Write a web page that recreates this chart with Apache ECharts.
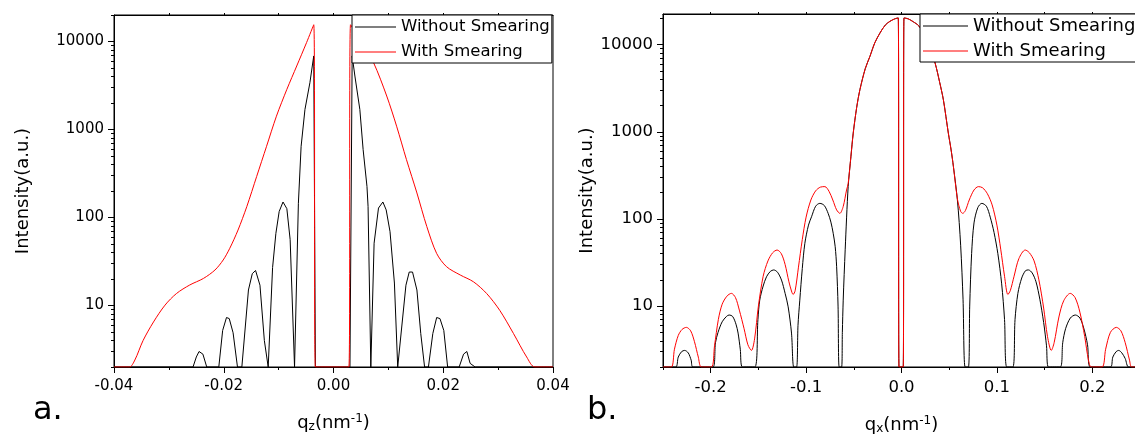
<!DOCTYPE html>
<html><head><meta charset="utf-8">
<script src="https://cdn.jsdelivr.net/npm/echarts@6/dist/echarts.min.js"></script>
<style>html,body{margin:0;padding:0;background:#fff}#c{width:1135px;height:441px}</style>
</head><body><div id="c"></div>
<script>
// ---------- Panel a (q_z) ----------
const aBlackX = [-0.04,-0.0256,-0.0250,-0.0245,-0.0238,-0.0231,-0.0209,-0.0202,-0.0195,-0.0190,-0.0183,-0.0175,-0.0167,-0.0155,-0.0148,-0.0142,-0.0134,-0.0126,-0.0119,-0.0117,-0.0111,-0.0105,-0.0099,-0.0092,-0.0085,-0.0079,-0.0071,-0.0070,-0.0064,-0.0059,-0.0052,-0.0043,-0.0036,-0.0033,0.0030,0.0034,0.0039,0.0048,0.0054,0.0061,0.0063,0.0068,0.0070,0.0074,0.0082,0.0090,0.0096,0.0103,0.0111,0.0117,0.0118,0.0132,0.0138,0.0144,0.0152,0.0159,0.0166,0.0173,0.0181,0.0188,0.0194,0.0201,0.0208,0.0229,0.0237,0.0243,0.0249,0.0258,0.04];
const aBlackY = [2,2,2.6,3.0,2.8,2,2,5.2,7.3,7.1,4.9,2,2,15,23,25,17,4,2,2,27,66,117,150,126,56,2,2,145,644,1690,3400,6850,2,2,6850,4050,1690,590,225,133,2,2,51,128,150,122,69,18,2,2,17,24,24,15,4.8,2,2,4.8,7.3,7.1,5.2,2,2,2.8,3.0,2.2,2,2];
const aRedX = [-0.04,-0.0372,-0.0362,-0.0347,-0.0328,-0.0307,-0.0286,-0.0262,-0.0237,-0.0216,-0.0201,-0.0189,-0.0174,-0.0158,-0.0140,-0.0122,-0.0104,-0.0085,-0.0067,-0.0049,-0.0036,-0.0033,0.0028,0.0031,0.0052,0.0073,0.0097,0.0115,0.0133,0.0152,0.0170,0.0188,0.0206,0.0231,0.0255,0.0279,0.0303,0.0328,0.0352,0.0367,0.04];
const aRedY = [2,2,2.4,4.0,6.5,10.1,13.7,17.1,20.3,25.3,32.9,44.7,72,133,293,644,1416,2857,5270,9750,15500,2,2,15500,9700,5750,2400,1090,454,190,79,39,27.6,22.2,18.6,13.7,8.8,4.8,2.6,2,2];

// ---------- Panel b (q_x) ----------
const bBlackX = [-0.25,-0.2367,-0.2340,-0.2305,-0.2273,-0.2235,-0.2205,-0.2186,
 -0.1976,-0.1950,-0.1923,-0.1880,-0.1835,-0.1808,-0.1770,-0.1735,-0.1713,-0.1690,-0.1667,
 -0.1538,-0.1505,-0.1486,-0.1450,-0.1415,-0.1375,-0.1339,-0.1300,-0.1258,-0.1220,-0.1188,-0.1153,-0.1129,
 -0.1100,-0.1085,-0.1066,-0.1040,-0.1013,-0.0975,-0.0943,-0.0900,-0.0856,-0.0810,-0.0769,-0.0740,-0.0716,-0.0695,-0.0680,-0.0665,-0.0653,
 -0.0628,-0.0620,-0.0611,-0.0590,-0.0559,-0.0530,-0.0506,-0.0470,-0.0436,-0.0380,-0.0331,-0.0280,-0.0226,-0.0170,-0.0121,-0.0070,-0.0034,-0.0026,
 0.0018,0.0026,0.0070,0.0124,0.0180,0.0226,0.0290,0.0352,0.0400,0.0439,0.0491,0.0520,0.0544,0.0586,0.0620,0.0645,0.0667,
 0.0701,0.0715,0.0735,0.0760,0.0800,0.0842,0.0890,0.0930,0.0970,0.1010,0.1050,0.1080,0.1104,
 0.1167,0.1190,0.1220,0.1260,0.1300,0.1331,0.1370,0.1410,0.1450,0.1490,0.1520,0.1541,
 0.1664,0.1690,0.1720,0.1770,0.1822,0.1870,0.1910,0.1950,0.1979,
 0.2189,0.2215,0.2250,0.2276,0.2310,0.2345,0.2381,0.25];
const bBlackY = [2,2,2.6,3.0,3.1,2.9,2.4,2,
 2,3.8,5.0,6.6,7.6,7.9,7.6,6.2,4.9,3.2,2,
 2,7,11.7,17,21.7,25,26,24.5,19.9,14,9.8,4.9,2,
 2,6,11.7,27,52.6,85,106,140,151,143,116,92,68.5,48,28.3,10,2,
 2,5,11.7,45,235,520,966,1900,3040,5300,7340,10500,13600,16800,18540,19800,20280,2,
 2,20280,19800,18300,16500,13600,9600,6160,3700,2330,966,620,400,165,50,12,2,
 2,10,40,90,135,151,140,105,70,40,18,7,2,
 2,7,14,21,25.5,26,24,19,12,6.5,3.5,2,
 2,3.8,5.5,7.3,7.9,7.3,5.6,3.6,2,
 2,2.6,3.0,3.1,2.9,2.5,2,2];
const bRedX = [-0.25,-0.2413,-0.2380,-0.2340,-0.2300,-0.2255,-0.2210,-0.2170,-0.2130,-0.2098,
 -0.1993,-0.1960,-0.1920,-0.1880,-0.1830,-0.1783,-0.1740,-0.1700,-0.1650,-0.1610,-0.1573,-0.1540,-0.1500,-0.1450,-0.1400,-0.1350,-0.1304,-0.1260,-0.1220,-0.1180,-0.1150,-0.1136,-0.1115,-0.1080,-0.1040,-0.1000,-0.0950,-0.0900,-0.0850,-0.0803,-0.0760,-0.0720,-0.0680,-0.0646,-0.0611,-0.0576,-0.0559,-0.0530,-0.0506,-0.0470,-0.0436,-0.0380,-0.0331,-0.0280,-0.0226,-0.0170,-0.0121,-0.0070,-0.0034,-0.0026,
 0.0018,0.0026,0.0070,0.0124,0.0180,0.0226,0.0290,0.0352,0.0400,0.0439,0.0491,0.0520,0.0544,0.0586,0.0620,0.0642,0.0670,0.0710,0.0760,0.0806,0.0850,0.0900,0.0950,0.1000,0.1040,0.1080,0.1115,0.1140,0.1180,0.1230,0.1297,0.1340,0.1390,0.1440,0.1490,0.1530,0.1570,0.1600,0.1650,0.1700,0.1769,0.1820,0.1870,0.1920,0.1960,0.1990,
 0.2102,0.2140,0.2190,0.2252,0.2300,0.2345,0.2390,0.2413,0.25];
const bRedY = [2,2,3.2,4.6,5.4,5.7,5.2,3.9,2.6,2,
 2,3.5,7,10.5,13,14,12.5,9,5.5,3.6,3.1,4.2,10,22,33,41,44,40,30,19,14.5,13.6,15,28,58,105,165,210,232,235,208,165,127,116,139,215,255,530,966,1900,3040,5300,7340,10500,13600,16800,18540,19800,20280,2,
 2,20280,19800,18300,16500,13600,9600,6160,3700,2330,966,620,400,170,122,116,125,165,215,235,228,195,145,85,45,22,13.6,15,22,35,44,41,33,20,9.5,4.5,3.1,3.8,7.5,11.5,14,12.5,8.5,4.5,2.4,2,
 2,3.2,5.0,5.7,5.2,3.8,2.4,2,2];

// ---------- Ticks ----------
const aXTicks = [-0.04,-0.02,0,0.02,0.04];
const aXMinor = [-0.03,-0.01,0.01,0.03];
const aXTop = [-0.03,-0.02,-0.01,0,0.01,0.02,0.03];
const bXTicks = [-0.2,-0.1,0,0.1,0.2];
const bXMinor = [-0.25,-0.15,-0.05,0.05,0.15,0.25];
const bXTop = [-0.2,-0.15,-0.1,-0.05,0,0.05,0.1,0.15,0.2];
const yTicks = [10,100,1000,10000];
const yMinor = [2,3,4,5,6,7,8,9,20,30,40,50,60,70,80,90,200,300,400,500,600,700,800,900,2000,3000,4000,5000,6000,7000,8000,9000,20000];
const seriesNames = ['Without Smearing','With Smearing'];

const FONT = 'DejaVu Sans';
const pairs = (xs, ys) => xs.map((x, i) => [x, ys[i]]);

function xAxesFor(g, min, max, ticks, minor, top, digits, labelSize, sub) {
  return [
    {type:'value', gridIndex:g, min, max, position:'bottom',
     splitLine:{show:false},
     axisLine:{show:true, onZero:false, lineStyle:{color:'#000', width:1}},
     axisTick:{show:true, customValues:ticks, length:6, lineStyle:{color:'#000'}},
     axisLabel:{customValues:ticks, formatter:v => v.toFixed(digits), margin:12,
                fontSize:labelSize, color:'#000', fontFamily:FONT},
     name:'{t|q}{s|' + sub + '}{t|(nm}{p|-1}{t|)}', nameLocation:'middle', nameGap:40,
     nameTextStyle:{rich:{
       t:{fontSize:18, fontFamily:FONT, color:'#000', lineHeight:20},
       s:{fontSize:12, fontFamily:FONT, color:'#000', lineHeight:12, verticalAlign:'bottom', padding:[22,0,0,0]},
       p:{fontSize:12, fontFamily:FONT, color:'#000', lineHeight:12, verticalAlign:'top', padding:[0,0,22,0]}
     }}},
    {type:'value', gridIndex:g, min, max, position:'bottom', splitLine:{show:false},
     axisLine:{show:false, onZero:false},
     axisTick:{show:true, customValues:minor, length:3, lineStyle:{color:'#000'}},
     axisLabel:{show:false}},
    {type:'value', gridIndex:g, min, max, position:'top', splitLine:{show:false},
     axisLine:{show:true, onZero:false, lineStyle:{color:'#000', width:1}},
     axisTick:{show:true, customValues:top, length:2, lineStyle:{color:'#000'}},
     axisLabel:{show:false}}
  ];
}
function yAxesFor(g, max, labelSize, nameGap) {
  return [
    {type:'log', logBase:10, gridIndex:g, min:2, max, position:'left',
     splitLine:{show:false},
     axisLine:{show:true, onZero:false, lineStyle:{color:'#000', width:1}},
     axisTick:{show:true, customValues:yTicks, length:6, lineStyle:{color:'#000'}},
     axisLabel:{customValues:yTicks, formatter:v => String(Math.round(v)), margin:10,
                fontSize:labelSize, color:'#000', fontFamily:FONT},
     name:'Intensity(a.u.)', nameLocation:'middle', nameGap,
     nameTextStyle:{fontSize:18, fontFamily:FONT, color:'#000'}},
    {type:'log', logBase:10, gridIndex:g, min:2, max, position:'left',
     splitLine:{show:false}, axisLine:{show:false, onZero:false},
     axisTick:{show:true, customValues:yMinor, length:3, lineStyle:{color:'#000'}},
     axisLabel:{show:false}}
  ];
}
function lineSeries(name, color, xi, yi, data, smooth, z) {
  return {type:'line', name, xAxisIndex:xi, yAxisIndex:yi, data, smooth,
          symbol:'none', showSymbol:false, clip:true, z,
          lineStyle:{color, width:1}, itemStyle:{color}, animation:false};
}
function legendFor(left, top, itemWidth, fontSize) {
  return {data:seriesNames.map(n => ({name:n, icon:'rect'})), orient:'vertical', left, top,
          itemWidth, itemHeight:1, itemGap:5,
          padding:[2,2,1,3], borderColor:'#000', borderWidth:1, borderRadius:0, backgroundColor:'#fff',
          selectedMode:false, z:10,
          textStyle:{fontSize, fontFamily:FONT, color:'#000', lineHeight:20}};
}

const chart = echarts.init(document.getElementById('c'), null, {renderer:'canvas'});
chart.setOption({
  animation:false,
  backgroundColor:'#fff',
  textStyle:{fontFamily:FONT},
  title:[
    {text:'a.', left:33, top:395, padding:0, textStyle:{fontSize:32, fontWeight:'normal', fontFamily:FONT, color:'#000'}},
    {text:'b.', left:587, top:395, padding:0, textStyle:{fontSize:32, fontWeight:'normal', fontFamily:FONT, color:'#000'}}
  ],
  grid:[
    {left:114, top:15, width:439, height:352, show:true, borderColor:'#000', borderWidth:1, backgroundColor:'transparent', containLabel:false, outerBoundsMode:'none'},
    {left:663, top:14, width:477, height:353, show:true, borderColor:'#000', borderWidth:1, backgroundColor:'transparent', containLabel:false, outerBoundsMode:'none'}
  ],
  xAxis:[].concat(
    xAxesFor(0, -0.04, 0.04, aXTicks, aXMinor, aXTop, 2, 15, 'z'),
    xAxesFor(1, -0.25, 0.25, bXTicks, bXMinor, bXTop, 1, 16.5, 'x')
  ),
  yAxis:[].concat(
    yAxesFor(0, 20000, 15, 82),
    yAxesFor(1, 22500, 16.5, 64)
  ),
  legend:[
    legendFor(352, 15, 41, 16.5),
    legendFor(920, 14, 45, 18)
  ],
  series:[
    lineSeries(seriesNames[0], '#000', 0, 0, pairs(aBlackX, aBlackY), false, 2),
    lineSeries(seriesNames[1], '#ff0000', 0, 0, pairs(aRedX, aRedY), 0.3, 3),
    lineSeries(seriesNames[0], '#000', 3, 2, pairs(bBlackX, bBlackY), 0.3, 2),
    lineSeries(seriesNames[1], '#ff0000', 3, 2, pairs(bRedX, bRedY), 0.3, 3)
  ]
});
</script></body></html>
